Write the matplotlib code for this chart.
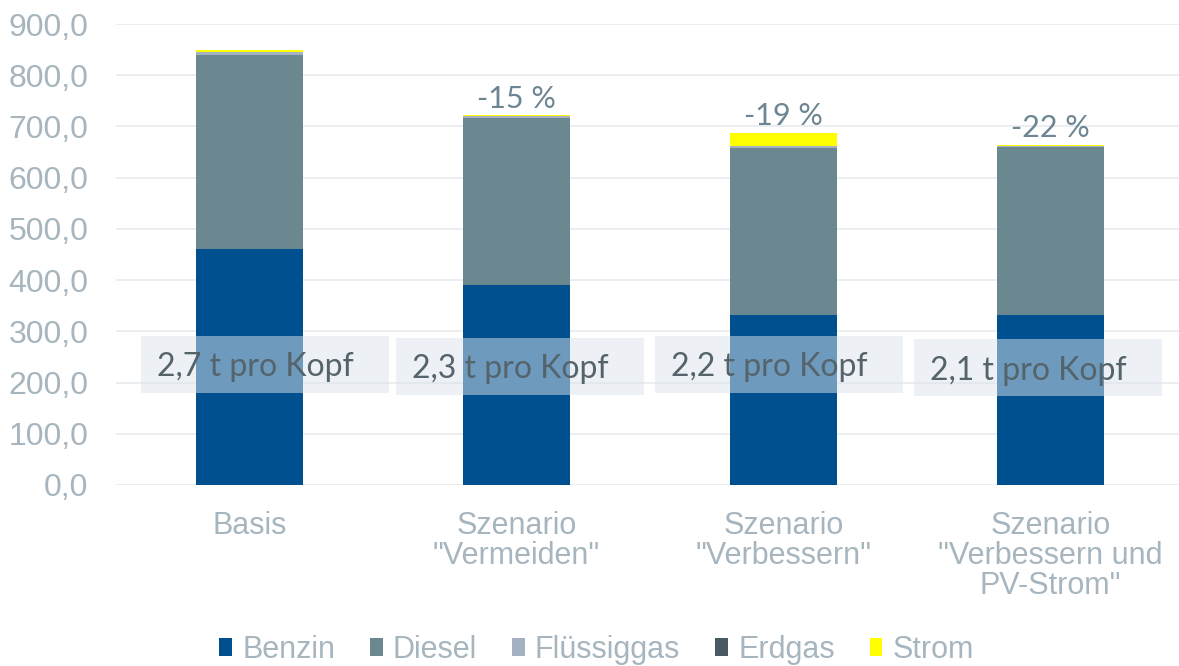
import matplotlib
matplotlib.use('Agg')
import matplotlib.pyplot as plt
from matplotlib.patches import Rectangle
import numpy as np

# Energieträger je Szenario (Werte in t CO2-Äq. / Tsd. t)
categories = ['Basis', 'Szenario\n"Vermeiden"', 'Szenario\n"Verbessern"',
              'Szenario\n"Verbessern und\nPV-Strom"']
benzin = [460, 390, 332, 332]
diesel = [380, 327, 326, 327]
fluessiggas = [5, 3, 4, 3]
erdgas = [1, 0.5, 0.5, 0.5]
strom = [4, 1.5, 25, 1.5]
pro_kopf = ['2,7', '2,3', '2,2', '2,1']

series = [('Benzin', benzin, '#00508f'),
          ('Diesel', diesel, '#6b8891'),
          ('Flüssiggas', fluessiggas, '#a3b1c2'),
          ('Erdgas', erdgas, '#4a5a62'),
          ('Strom', strom, '#ffff00')]

# Lage der "pro Kopf"-Kästen relativ zur Balkenmitte (x0, x1, y0, y1)
box_layout = [(-0.408, 0.521, 180, 291),
              (-0.453, 0.476, 176, 287),
              (-0.483, 0.446, 180, 291),
              (-0.513, 0.416, 174, 285)]

tick_color = '#a7b5be'
label_font = 'Liberation Sans'

fig = plt.figure(figsize=(11.79, 6.66), dpi=100)
ax = fig.add_axes([116 / 1179, 181 / 666, 1068 / 1179, 461 / 666])

x = np.arange(len(categories))
bottom = np.zeros(len(categories))
for name, vals, color in series:
    vals = np.array(vals, dtype=float)
    ax.bar(x, vals, 0.4, bottom=bottom, color=color, label=name, zorder=2)
    bottom += vals
totals = bottom

# Veränderung gegenüber Basis
for i in range(1, len(categories)):
    pct = round((totals[i] / totals[0] - 1) * 100)
    ax.text(x[i], totals[i] + 5, f'-{abs(pct)} %', ha='center', va='bottom',
            fontsize=22, family='Lato', color='#6e8693', zorder=4)

# halbtransparente Kästen mit Emissionen pro Kopf
for i, (x0, x1, y0, y1) in enumerate(box_layout):
    ax.add_patch(Rectangle((x[i] + x0, y0), x1 - x0, y1 - y0,
                           facecolor='#dde4ec', alpha=0.5, edgecolor='none', zorder=3))
    ax.text(x[i] + x0 + 0.06, (y0 + y1) / 2 - 6, f'{pro_kopf[i]} t pro Kopf',
            ha='left', va='center', fontsize=23, family='Lato',
            color='#55636b', zorder=4)

ax.set_ylim(0, 900)
ax.set_xlim(-0.5, len(categories) - 0.5)
ax.set_yticks(np.arange(0, 901, 100))
ax.set_yticklabels([f'{v:.1f}'.replace('.', ',') for v in np.arange(0, 901, 100)])
ax.set_xticks(x)
ax.set_xticklabels(categories, linespacing=1.0)
for lbl in ax.get_xticklabels() + ax.get_yticklabels():
    lbl.set_fontfamily(label_font)
    lbl.set_fontsize(22)
    lbl.set_color(tick_color)
for lbl in ax.get_yticklabels():
    lbl.set_fontsize(23)
ax.tick_params(axis='both', length=0)
ax.tick_params(axis='x', pad=19)
ax.tick_params(axis='y', pad=20)
ax.yaxis.grid(True, color='#e8ebee', linewidth=1.2, zorder=0)
ax.set_axisbelow(True)
for sp in ax.spines.values():
    sp.set_visible(False)

leg = fig.legend(loc='center', bbox_to_anchor=(0.506, 16 / 666), ncol=5, frameon=False,
                 prop={'family': label_font, 'size': 22}, handlelength=0.42,
                 handleheight=0.52, handletextpad=0.33, columnspacing=1.14)
for t in leg.get_texts():
    t.set_color(tick_color)

fig.savefig('out.png', dpi=100)
